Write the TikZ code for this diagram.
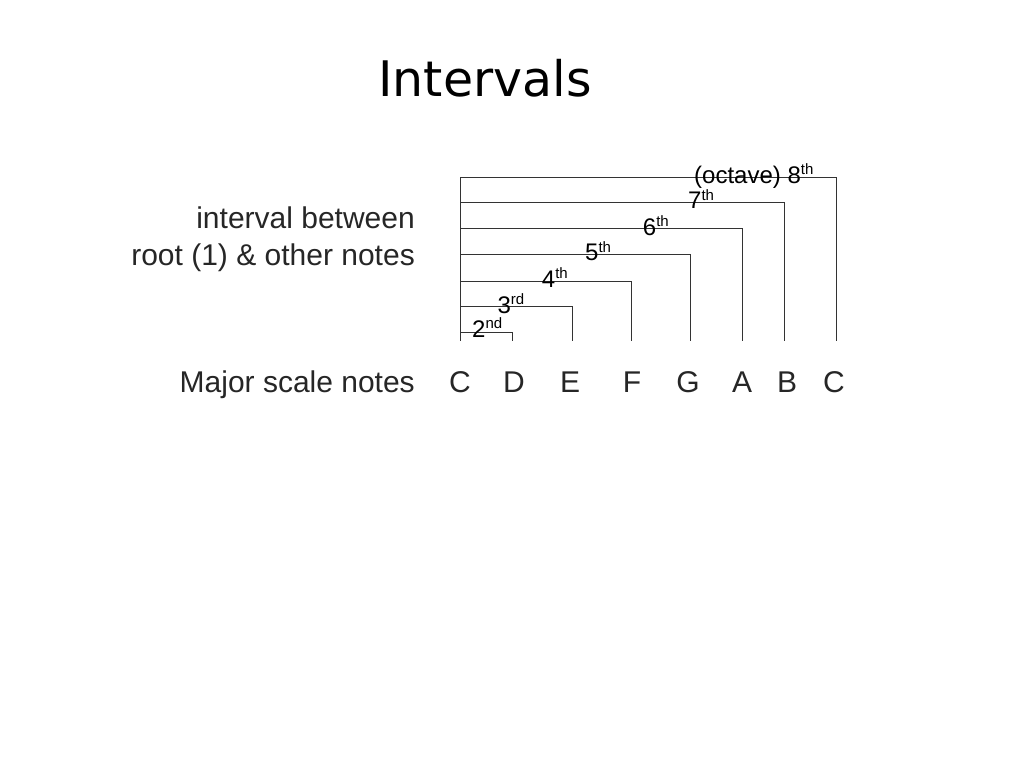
\documentclass[tikz,border=0pt]{standalone}
\usepackage{fontspec}
\setmainfont{Liberation Sans}
\newfontfamily\titlefont{DejaVu Sans}
\usetikzlibrary{positioning}
\newcommand{\intv}[2]{#1\raisebox{8.7pt}{\fontsize{15}{15}\selectfont #2}}
\tikzset{
  note/.style={anchor=base, inner sep=0pt, font=\fontsize{30}{30}\selectfont, text=black!85},
  sidelabel/.style={anchor=base east, inner sep=0pt, font=\fontsize{30}{30}\selectfont, text=black!85},
  intlabel/.style={anchor=base west, inner sep=0pt, font=\fontsize{24}{24}\selectfont},
  bracket/.style={line width=0.9pt, draw=black!80}
}

\begin{document}
\begin{tikzpicture}[x=1pt, y=-1pt]
        \useasboundingbox (0,0) rectangle (1024,768);
        % Title
        \node[anchor=base, inner sep=0pt, font=\titlefont\fontsize{49}{49}\selectfont] (title) at (485,96.7) {Intervals};

        % Left labels
        \node[sidelabel] (lbltop) at (415,228.3) {interval between};
        \node[sidelabel] (lblbot) at (415,265.3) {root (1) \& other notes};
        \node[sidelabel] (lblnotes) at (415,392) {Major scale notes};

        % Scale notes
        \node[note] (c1) at (460,392) {C};
        \node[note] (c2) at (514,392) {D};
        \node[note] (c3) at (570,392) {E};
        \node[note] (c4) at (632,392) {F};
        \node[note] (c5) at (688,392) {G};
        \node[note] (c6) at (742,392) {A};
        \node[note] (c7) at (787,392) {B};
        \node[note] (c8) at (834,392) {C};

        % Bracket ends above the notes
        \coordinate (t1) at (460.7,340.7);
        \coordinate (t2) at (512,340.7);
        \coordinate (t3) at (572,340.7);
        \coordinate (t4) at (631.3,340.7);
        \coordinate (t5) at (690.7,340.7);
        \coordinate (t6) at (742,340.7);
        \coordinate (t7) at (784.7,340.7);
        \coordinate (t8) at (836,340.7);
        % Bracket levels
        \coordinate (h2) at (460.7,332.7);
        \coordinate (h3) at (460.7,306.7);
        \coordinate (h4) at (460.7,281.3);
        \coordinate (h5) at (460.7,254.7);
        \coordinate (h6) at (460.7,228.7);
        \coordinate (h7) at (460.7,202.7);
        \coordinate (h8) at (460.7,177.3);

        % Brackets
        \draw[bracket] (t1) -- (h8);
        \draw[bracket] (h2) -| (t2);
        \draw[bracket] (h3) -| (t3);
        \draw[bracket] (h4) -| (t4);
        \draw[bracket] (h5) -| (t5);
        \draw[bracket] (h6) -| (t6);
        \draw[bracket] (h7) -| (t7);
        \draw[bracket] (h8) -| (t8);

        % Interval labels
        \node[intlabel] (i2) at (472,337.3) {\intv{2}{nd}};
        \node[intlabel] (i3) at (497.3,313.3) {\intv{3}{rd}};
        \node[intlabel] (i4) at (541.7,287.3) {\intv{4}{th}};
        \node[intlabel] (i5) at (585,260.7) {\intv{5}{th}};
        \node[intlabel] (i6) at (642.7,235) {\intv{6}{th}};
        \node[intlabel] (i7) at (688,208.7) {\intv{7}{th}};
        \node[intlabel] (i8) at (694,183) {\intv{(octave) 8}{th}};

    \end{tikzpicture}
\end{document}
